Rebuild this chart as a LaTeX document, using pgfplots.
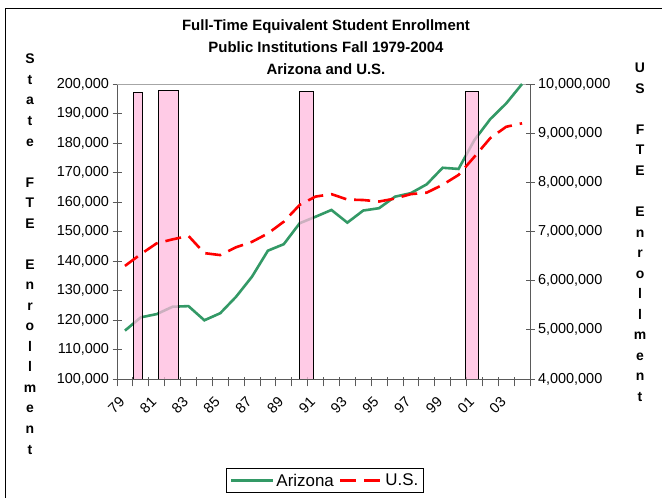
\documentclass[border=0pt]{standalone}
\usepackage{pgfplots}
\pgfplotsset{compat=1.18}
\usepackage{fontspec}
\setmainfont{Liberation Sans}

\definecolor{azgreen}{RGB}{51,153,102}
\definecolor{recpink}{RGB}{255,185,222}
\definecolor{axgray}{RGB}{90,90,90}

% Arizona (left axis) and U.S. (right axis) FTE enrollment, 1979-2004
\pgfplotstableread{
year az
1979.5 116400
1980.5 120900
1981.5 122000
1982.5 124500
1983.5 124700
1984.5 119900
1985.5 122300
1986.5 127900
1987.5 134700
1988.5 143500
1989.5 145700
1990.5 152800
1991.5 155000
1992.5 157300
1993.5 153000
1994.5 157100
1995.5 157900
1996.5 161800
1997.5 163000
1998.5 166000
1999.5 171600
2000.5 171200
2001.5 181000
2002.5 188100
2003.5 193400
2004.5 200000
}\azdata
\pgfplotstableread{
year us
1979.5 6300000
1980.5 6540000
1981.5 6760000
1982.5 6840000
1983.5 6910000
1984.5 6560000
1985.5 6520000
1986.5 6680000
1987.5 6790000
1988.5 6960000
1989.5 7200000
1990.5 7540000
1991.5 7710000
1992.5 7760000
1993.5 7650000
1994.5 7640000
1995.5 7610000
1996.5 7670000
1997.5 7760000
1998.5 7790000
1999.5 7950000
2000.5 8150000
2001.5 8520000
2002.5 8900000
2003.5 9130000
2004.5 9200000
}\usdata

\begin{document}
\begin{tikzpicture}[x=1bp,y=1bp]
\useasboundingbox (0,0) rectangle (662,498);
\draw[black, line width=0.8bp] (5,-5) -- (5,490) -- (670,490);

\pgfplotsset{
  every axis/.append style={
    scale only axis, width=413bp, height=295bp,
    at={(117bp,119bp)}, anchor=south west,
    xmin=1979, xmax=2005,
    tick label style={font=\fontsize{14.5}{16}\selectfont},
    /pgf/number format/assume math mode=true,
    scaled y ticks=false,
    yticklabel style={/pgf/number format/fixed, /pgf/number format/1000 sep={,}},
    tick align=center,
    major tick length=9bp,
    axis line style={axgray, line width=0.9bp},
    every tick/.style={axgray, line width=0.8bp},
  },
  recbar/.style={draw=black, line width=0.8bp, fill=recpink, fill opacity=0.75},
}

\begin{axis}[
    axis x line*=bottom, axis y line*=left,
    ymin=100000, ymax=200000,
    ytick={100000,110000,...,200000},
    xtick={1979,...,2005},
    xticklabels={79,,81,,83,,85,,87,,89,,91,,93,,95,,97,,99,,01,,03,,},
    x tick style={axgray, line width=0.8bp, yshift=-3bp},
    xticklabel style={rotate=45, anchor=north east, xshift=-4bp, yshift=-6bp},
  ]
\draw[gray!70, line width=0.6bp] (rel axis cs:0,1) -- (rel axis cs:1,1);
\addplot[azgreen, line width=2.6bp, no markers] table[x=year, y=az] {\azdata};
% recession bars
\addplot[recbar] coordinates {(1980.01,100000) (1980.01,197000) (1980.6,197000) (1980.6,100000)};
\addplot[recbar] coordinates {(1981.61,100000) (1981.61,197700) (1982.84,197700) (1982.84,100000)};
\addplot[recbar] coordinates {(1990.46,100000) (1990.46,197400) (1991.34,197400) (1991.34,100000)};
\addplot[recbar] coordinates {(2000.96,100000) (2000.96,197400) (2001.76,197400) (2001.76,100000)};
\end{axis}

\begin{axis}[
    axis x line=none, axis y line*=right,
    ymin=4000000, ymax=10000000,
    ytick={4000000,5000000,...,10000000},
    legend style={at={(0.504,-0.303)}, anchor=north, draw=black, line width=0.8bp,
      legend columns=2, font=\fontsize{17}{19}\selectfont, inner sep=3bp,
      /tikz/every even column/.append style={column sep=3bp}},
    legend image code/.code={\draw[#1] (0bp,0bp) -- (42bp,0bp);},
  ]
\addlegendimage{azgreen, line width=2.6bp}
\addlegendentry{Arizona}
\addplot[red, line width=2.6bp, dash pattern=on 16bp off 8bp, no markers] table[x=year, y=us] {\usdata};
\addlegendentry{U.S.}
\end{axis}

\node[align=center, font=\bfseries\fontsize{15}{22}\selectfont] at (326,451) {Full-Time Equivalent Student Enrollment\\Public Institutions Fall 1979-2004\\Arizona and U.S.};
\node[anchor=north, align=center, inner sep=0pt, font=\bfseries\fontsize{14}{20.6}\selectfont] at (30,444) {S\\t\\a\\t\\e\\[20.6bp]F\\T\\E\\[20.6bp]E\\n\\r\\o\\l\\l\\m\\e\\n\\t};
\node[anchor=north, align=center, inner sep=0pt, font=\bfseries\fontsize{14}{20.6}\selectfont] at (640,435) {U\\S\\[20.6bp]F\\T\\E\\[20.6bp]E\\n\\r\\o\\l\\l\\m\\e\\n\\t};
\end{tikzpicture}
\end{document}
